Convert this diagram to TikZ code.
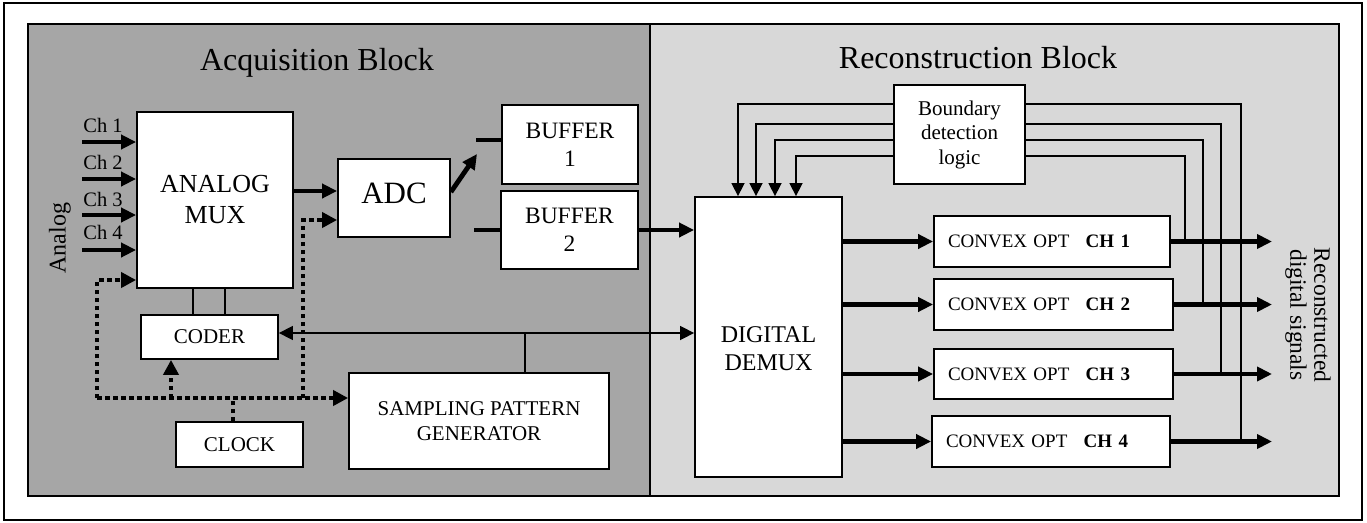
\documentclass[tikz,border=0pt]{standalone}
\usepackage{fontspec}
\setmainfont{Liberation Serif}
\usetikzlibrary{arrows.meta}

\definecolor{acqgray}{HTML}{A6A6A6}
\definecolor{recgray}{HTML}{D8D8D8}

\tikzset{
  blk/.style={draw, fill=white, line width=1.8pt, inner sep=0pt, align=center},
  fs21/.style={font=\fontsize{21}{24.5}\selectfont},
  fs24/.style={font=\fontsize{24}{28}\selectfont},
  thk/.style={line width=4.8pt, -{Triangle[length=15pt,width=14pt]}},
  stub/.style={line width=4.8pt},
  thn/.style={line width=1.5pt},
  thnarr/.style={line width=1.5pt, -{Triangle[length=13pt,width=13pt]}},
  dotl/.style={line width=4.5pt, dash pattern=on 4.5pt off 3.5pt},
  dotarr/.style={dotl, -{Triangle[length=15pt,width=15pt]}},
  cvx/.style={blk, font=\fontsize{19}{22}\selectfont, align=left,
              inner xsep=14pt, minimum height=51pt},
}

\begin{document}
\begin{tikzpicture}[x=1pt,y=-1pt]
\useasboundingbox (0,0) rectangle (1367,522);

% frame and the two blocks
\draw[line width=2.2pt] (4,3) rectangle (1362,520);
\draw[line width=2pt, fill=acqgray] (28,24) rectangle (650,496);
\draw[line width=2pt, fill=recgray] (650,24) rectangle (1339,496);

\node[font=\fontsize{32}{36}\selectfont] (acqtitle) at (317,63) {Acquisition Block};
\node[font=\fontsize{32}{36}\selectfont] (rectitle) at (978,58) {Reconstruction Block};

% acquisition side
\node[blk, font=\fontsize{26}{31}\selectfont, minimum width=156pt, minimum height=176pt] (mux) at (215,200) {ANALOG\\MUX};
\node[blk, minimum width=112pt, minimum height=78pt] (adc) at (394,198) {};
\node[font=\fontsize{31}{34}\selectfont] (adctxt) at ([yshift=5pt]adc.center) {ADC};
\node[blk, font=\fontsize{23.5}{28}\selectfont, minimum width=136pt, minimum height=79pt] (buf1) at (570,144.5) {BUFFER\\1};
\node[blk, font=\fontsize{23.5}{28}\selectfont, minimum width=137pt, minimum height=78pt] (buf2) at (569.5,230) {BUFFER\\2};
\node[blk, fs21, minimum width=137pt, minimum height=44pt] (coder) at (209.5,337) {CODER};
\node[blk, fs21, minimum width=127pt, minimum height=45pt] (clock) at (239.5,444.5) {CLOCK};
\node[blk, fs21, minimum width=260pt, minimum height=96pt] (spg) at (479,421) {SAMPLING PATTERN\\GENERATOR};

\node[fs24, rotate=90] (analog) at (60,238) {Analog};

% analog channel inputs
\foreach \i/\y/\ty in {1/142/125, 2/179/162, 3/215/199, 4/250/232} {
  \node[font=\fontsize{20.5}{24}\selectfont] (chl\i) at (103,\ty) {Ch \i};
  \coordinate (chin\i) at (82,\y);
  \draw[thk] (chin\i) -- (chin\i -| mux.west);
}

\draw[thk] (mux.east |- 0,191) -- (adc.west |- 0,191);
\coordinate (bufsel) at (477,154);
\draw[thk] ([yshift=6pt]adc.east) -- (bufsel);
\coordinate (stub1) at (476,140);
\coordinate (stub2) at (474,230);
\draw[stub] (stub1) -- (stub1 -| buf1.west);
\draw[stub] (stub2) -- (stub2 -| buf2.west);

% mux select lines
\draw[thn] (mux.south -| 193,0) -- (coder.north -| 193,0);
\draw[thn] (mux.south -| 225,0) -- (coder.north -| 225,0);

% clock distribution
\coordinate (cj) at (233,398);
\coordinate (cl) at (97,398);
\coordinate (cr) at (303,398);
\draw[dotl] (clock.north -| cj) -- (cj);
\draw[dotarr] (cl) -- (spg.west |- cl);
\draw[dotarr] (cl) -- (97,280) -- (mux.west |- 0,280);
\draw[dotarr] (171,398) -- (coder.south -| 171,0);
\draw[dotarr] (cr) -- (303,220) -- (adc.west |- 0,220);

% reconstruction side
\node[blk, minimum width=147pt, minimum height=280pt] (demux) at (768.5,337) {};
\node[fs24, align=center] (demuxtxt) at ([yshift=-12pt]demux.center) {DIGITAL\\DEMUX};
\node[blk, fs21, minimum width=131pt, minimum height=99pt] (bdl) at (959.5,134.5) {Boundary\\detection\\logic};

\node[cvx, text width=208pt] (cvx1) at (1052,241.5) {CONVEX OPT\hspace{10pt} \textbf{CH 1}};
\node[cvx, text width=211pt] (cvx2) at (1053.5,304.5) {CONVEX OPT\hspace{10pt} \textbf{CH 2}};
\node[cvx, text width=211pt, minimum height=50pt] (cvx3) at (1053.5,374) {CONVEX OPT\hspace{10pt} \textbf{CH 3}};
\node[cvx, text width=210pt] (cvx4) at (1051,441.5) {CONVEX OPT\hspace{10pt} \textbf{CH 4}};

% coder <-> demux link and pattern generator tap
\draw[thn, {Triangle[length=14pt,width=14pt]}-{Triangle[length=14pt,width=14pt]}] (coder.east |- 0,333) -- (demux.west |- 0,333);
\draw[thn] (spg.north -| 525,0) -- (525,333);

\draw[thk] (buf2.east) -- (demux.west |- buf2.east);

% demux to the per-channel solvers
\foreach \i in {1,...,4} {
  \draw[thk] (demux.east |- cvx\i.west) -- (cvx\i.west);
}

% boundary feedback into the demux
\foreach \y/\x in {104/738, 124/756, 140/775, 156/796} {
  \draw[thnarr] (bdl.west |- 0,\y) -| (demux.north -| \x,0);
}

% outputs and boundary taps
\foreach \i in {1,...,4} {
  \coordinate (out\i) at (1272,0 |- cvx\i.east);
  \draw[thk] (cvx\i.east) -- (out\i);
}
\draw[thn] (bdl.east |- 0,156) -| (1185,0 |- cvx1.east);
\draw[thn] (bdl.east |- 0,140) -| (1203,0 |- cvx2.east);
\draw[thn] (bdl.east |- 0,124) -| (1221,0 |- cvx3.east);
\draw[thn] (bdl.east |- 0,104) -| (1241,0 |- cvx4.east);

\node[font=\fontsize{23.5}{24}\selectfont, rotate=-90, align=center] (recsig) at (1308,315) {Reconstructed\\digital signals};
\end{tikzpicture}
\end{document}
